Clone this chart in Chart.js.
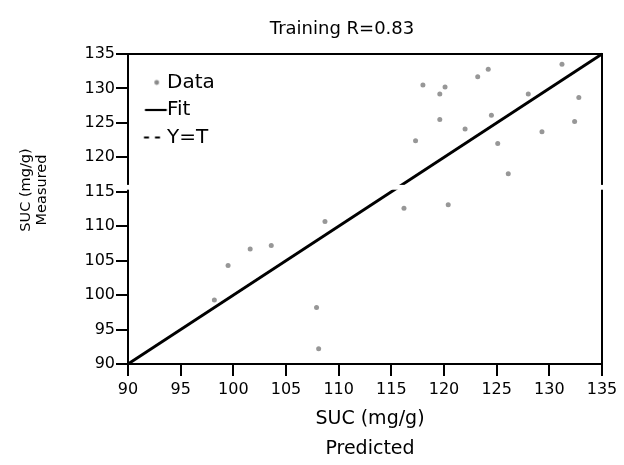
<!DOCTYPE html>
<html>
<head>
<meta charset="utf-8">
<script src="https://cdn.jsdelivr.net/npm/chart.js@4/dist/chart.umd.min.js"></script>
<style>
  html, body { margin: 0; padding: 0; background: #fff; }
</style>
</head>
<body>
<canvas id="chart" width="624" height="465"></canvas>
<script>
// values
const predicted = [98.2, 99.5, 101.6, 103.6, 108.7, 107.9, 108.1, 116.2, 117.3, 118.0, 119.6, 120.1, 119.6,
                   120.4, 122.0, 123.2, 124.2, 124.5, 125.1, 126.1, 128.0, 129.3, 131.2, 132.8, 132.4];
const measured = [99.3, 104.3, 106.7, 107.2, 110.7, 98.2, 92.2, 112.6, 122.4, 130.5, 129.2, 130.2, 125.5,
                  113.1, 124.1, 131.7, 132.8, 126.1, 122.0, 117.6, 129.2, 123.7, 133.5, 128.7, 125.2];
const fitX = [90, 135];
const fitY = [90, 135];
const identityX = [90, 135];
const identityY = [90, 135];
const tickValues = [90, 95, 100, 105, 110, 115, 120, 125, 130, 135];
const axisBreak = [115.3, 116.0];

const FONT = "'DejaVu Sans', sans-serif";

function toPoints(xs, ys) {
  return xs.map((x, i) => ({ x: x, y: ys[i] }));
}

// little pictures used as the legend symbols
function legendSymbol(kind) {
  const c = document.createElement("canvas");
  c.width = 48;
  c.height = 12;
  const g = c.getContext("2d");
  const cy = 6;
  if (kind === "dot") {
    g.fillStyle = "#8a8a8a";
    g.beginPath();
    g.arc(34.5, cy, 2.4, 0, Math.PI * 2);
    g.fill();
  } else {
    g.strokeStyle = "#000";
    g.lineWidth = 2.2;
    g.beginPath();
    if (kind === "dash") {
      g.moveTo(21.75, cy); g.lineTo(26.75, cy);
      g.moveTo(32.75, cy); g.lineTo(37.75, cy);
    } else {
      g.moveTo(22.7, cy); g.lineTo(44.5, cy);
    }
    g.stroke();
  }
  return c;
}

const symbols = [legendSymbol("dot"), legendSymbol("line"), legendSymbol("dash")];

const breakPlugin = {
  id: "axisBreak",
  afterDraw(chart) {
    const y = chart.scales.y;
    const a = chart.chartArea;
    const ctx = chart.ctx;
    const top = y.getPixelForValue(axisBreak[1]);
    const bot = y.getPixelForValue(axisBreak[0]);
    ctx.save();
    ctx.fillStyle = "#fff";
    ctx.fillRect(a.left - 3, top, a.right - a.left + 6, bot - top);
    ctx.restore();
  }
};

function shiftTitle(scale, dx, dy) {
  if (scale._shifted) return;
  const orig = scale.drawTitle;
  scale.drawTitle = function () {
    this.ctx.save();
    this.ctx.translate(dx, dy);
    orig.call(this);
    this.ctx.restore();
  };
  scale._shifted = true;
}

// title sits a bit left of centre, legend inside the frame
const placeBoxes = {
  id: "placeBoxes",
  afterLayout(chart) {
    const t = chart.titleBlock;
    const w = t.right - t.left;
    t.left = 342 - w / 2;
    t.right = 342 + w / 2;
    const lg = chart.legend;
    const h = lg.bottom - lg.top;
    lg.top = chart.chartArea.top + 11;
    lg.bottom = lg.top + h;
    shiftTitle(chart.scales.y, 0, -19);
    shiftTitle(chart.scales.x, 5, 3);
  }
};

const setTicks = (s) => { s.ticks = tickValues.map((v) => ({ value: v })); };

new Chart(document.getElementById("chart"), {
  type: "scatter",
  data: {
    datasets: [
      {
        label: "Data",
        data: toPoints(predicted, measured),
        pointRadius: 2.5,
        pointBackgroundColor: "#979797",
        pointBorderWidth: 0,
      },
      {
        label: "Fit",
        data: toPoints(fitX, fitY),
        showLine: true,
        pointRadius: 0,
        borderColor: "#000",
        borderWidth: 2.8,
        clip: false,
      },
      {
        label: "Y=T",
        data: toPoints(identityX, identityY),
        showLine: true,
        pointRadius: 0,
        borderColor: "#000",
        borderWidth: 1.5,
        borderDash: [5, 6],
        clip: false,
      },
    ],
  },
  options: {
    responsive: false,
    animation: false,
    layout: { padding: { left: 0, right: 22, top: 0, bottom: 0 } },
    scales: {
      x: {
        type: "linear",
        position: "bottom",
        min: 90,
        max: 135,
        afterBuildTicks: setTicks,
        afterFit: (s) => { s.height = 101; },
        ticks: { color: "#000", font: { family: FONT, size: 16 }, padding: 4 },
        grid: { drawOnChartArea: false, color: "#000", lineWidth: 2, tickLength: 12 },
        border: { color: "#000", width: 2 },
        title: {
          display: true,
          text: ["SUC (mg/g)", "Predicted"],
          color: "#000",
          font: { family: FONT, size: 19, lineHeight: 1.58 },
          padding: { top: 0, bottom: 4 },
        },
      },
      y: {
        type: "linear",
        position: "left",
        min: 90,
        max: 135,
        afterBuildTicks: setTicks,
        afterFit: (s) => { s.width = 128; },
        ticks: { color: "#000", font: { family: FONT, size: 16 }, padding: 1 },
        grid: { drawOnChartArea: false, color: "#000", lineWidth: 2, tickLength: 12 },
        border: { color: "#000", width: 2 },
        title: {
          display: true,
          text: ["SUC (mg/g)", "Measured"],
          color: "#000",
          font: { family: FONT, size: 14.5, lineHeight: 1.12 },
          padding: { top: 18, bottom: 0 },
        },
      },
      x2: {
        type: "linear",
        position: "top",
        min: 90,
        max: 135,
        ticks: { display: false },
        grid: { display: false },
        border: { color: "#000", width: 2 },
        afterFit: (s) => { s.height = 0; },
      },
      y2: {
        type: "linear",
        position: "right",
        min: 90,
        max: 135,
        ticks: { display: false },
        grid: { display: false },
        border: { color: "#000", width: 2 },
        afterFit: (s) => { s.width = 0; },
      },
    },
    plugins: {
      title: {
        display: true,
        text: "Training R=0.83",
        color: "#000",
        font: { family: FONT, size: 18, weight: "normal", lineHeight: 1.2 },
        padding: { top: 19, bottom: 13.4 },
      },
      legend: {
        position: "chartArea",
        align: "start",
        labels: {
          usePointStyle: true,
          pointStyleWidth: 21.5,
          padding: 7.5,
          color: "#000",
          font: { family: FONT, size: 20 },
          generateLabels: (chart) =>
            chart.data.datasets.map((ds, i) => ({
              text: ds.label,
              datasetIndex: i,
              pointStyle: symbols[i],
              fillStyle: "#000",
              strokeStyle: "#000",
              fontColor: "#000",
              lineWidth: 0,
              hidden: false,
            })),
        },
      },
      tooltip: { enabled: false },
    },
  },
  plugins: [breakPlugin, placeBoxes],
});
</script>
</body>
</html>
